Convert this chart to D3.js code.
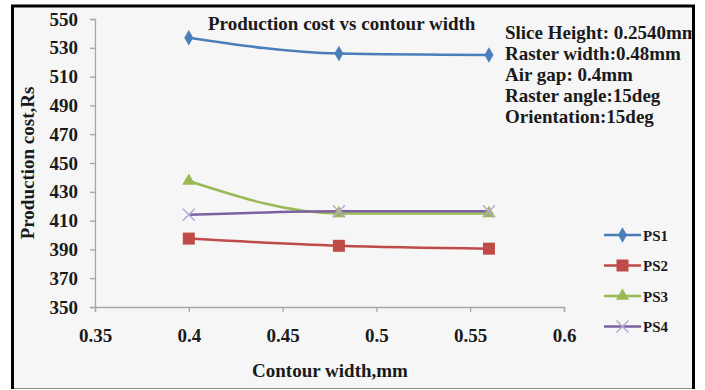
<!DOCTYPE html>
<html>
<head>
<meta charset="utf-8">
<script src="https://cdn.jsdelivr.net/npm/d3@7"></script>
<style>
  html, body { margin: 0; padding: 0; background: #ffffff; }
  svg { display: block; }
  text { font-family: "Liberation Serif", "Times New Roman", serif; fill: #1a1a1a; }
</style>
</head>
<body>
<svg id="chart" width="705" height="390"></svg>
<script>
// Contour width values (mm) and production cost per part set (Rs)
const contourWidth = [0.40, 0.48, 0.56];
const ps1 = [537, 526, 525];
const ps2 = [397.5, 392.5, 390.5];
const ps3 = [437.5, 415, 415];
const ps4 = [414, 416.5, 416.5];
const seriesNames = ["PS1", "PS2", "PS3", "PS4"];
const seriesColors = ["#4a7ebb", "#be4b48", "#98b954", "#7d60a0"];
const xTicks = [0.35, 0.4, 0.45, 0.5, 0.55, 0.6];
const yTicks = [350, 370, 390, 410, 430, 450, 470, 490, 510, 530, 550];
const noteLines = [
  "Slice Height: 0.2540mm",
  "Raster width:0.48mm",
  "Air gap: 0.4mm",
  "Raster angle:15deg",
  "Orientation:15deg"
];

const series = [ps1, ps2, ps3, ps4].map((vals, i) => ({
  name: seriesNames[i],
  color: seriesColors[i],
  points: vals.map((v, j) => ({ x: contourWidth[j], y: v }))
}));

const svg = d3.select("#chart");

// Frame
svg.append("rect").attr("x", 12.5).attr("y", 6).attr("width", 681).attr("height", 383)
  .attr("fill", "#f6f6f6").attr("stroke", "none");
svg.append("line").attr("x1", 12).attr("x2", 694).attr("y1", 388.5).attr("y2", 388.5)
  .attr("stroke", "#8c8c8c").attr("stroke-width", 1.2);

const x = d3.scaleLinear().domain([0.35, 0.6]).range([95, 564]);
const y = d3.scaleLinear().domain([350, 550]).range([307, 19]);

// Axes
const yAxis = svg.append("g").attr("transform", "translate(95,0)")
  .call(d3.axisLeft(y).tickValues(yTicks).tickSize(5).tickPadding(12).tickFormat(d3.format("d")));
const xAxis = svg.append("g").attr("transform", "translate(0,307)")
  .call(d3.axisBottom(x).tickValues(xTicks).tickSize(5).tickPadding(16.5).tickFormat(d => String(d)));
[xAxis, yAxis].forEach(g => {
  g.selectAll("path, line").attr("stroke", "#a6a6a6").attr("stroke-width", 1.3);
  g.selectAll("text").attr("font-family", "Liberation Serif, serif")
    .attr("font-size", 19).attr("font-weight", "bold").attr("fill", "#262626");
});

// Series lines (smoothed)
const line = d3.line().x(d => x(d.x)).y(d => y(d.y)).curve(d3.curveMonotoneX);
const gSeries = svg.append("g");
series.forEach(s => {
  gSeries.append("path").attr("d", line(s.points))
    .attr("fill", "none").attr("stroke", s.color).attr("stroke-width", 2.5);
});

// Marker drawing shared by plot and legend
function marker(g, name, color, cx, cy) {
  if (name === "PS1") {
    g.append("path").attr("d", d3.symbol(d3.symbolDiamond, 70)())
      .attr("transform", `translate(${cx},${cy})`).attr("fill", color);
  } else if (name === "PS2") {
    g.append("rect").attr("x", cx - 6).attr("y", cy - 6).attr("width", 12).attr("height", 12)
      .attr("fill", color);
  } else if (name === "PS3") {
    g.append("path").attr("d", d3.symbol(d3.symbolTriangle, 75)())
      .attr("transform", `translate(${cx},${cy})`).attr("fill", color);
  } else {
    g.append("path").attr("d", `M${cx - 6},${cy - 6}L${cx + 6},${cy + 6}M${cx - 6},${cy + 6}L${cx + 6},${cy - 6}`)
      .attr("stroke", "#b8a6d4").attr("stroke-width", 1.5).attr("fill", "none");
  }
}
series.forEach(s => s.points.forEach(p => marker(gSeries, s.name, s.color, x(p.x), y(p.y))));

// Title and build settings
svg.append("text").attr("x", 208).attr("y", 29.5)
  .attr("font-size", 19).attr("font-weight", "bold").attr("fill", "#222")
  .text("Production cost vs contour width");
svg.append("g").selectAll("text").data(noteLines).join("text")
  .attr("x", 505).attr("y", (d, i) => 39 + i * 21)
  .attr("font-size", 19).attr("font-weight", "bold").attr("fill", "#222")
  .text(d => d);

// Axis titles
svg.append("text").attr("x", 330).attr("y", 377).attr("text-anchor", "middle")
  .attr("font-size", 19).attr("font-weight", "bold").text("Contour width,mm");
svg.append("text").attr("transform", "translate(34,163) rotate(-90)").attr("text-anchor", "middle")
  .attr("font-size", 19).attr("font-weight", "bold").text("Production cost,Rs");

// Legend
const legend = svg.append("g");
series.forEach((s, i) => {
  const ly = 235 + i * 30.5;
  legend.append("line").attr("x1", 604).attr("x2", 641).attr("y1", ly).attr("y2", ly)
    .attr("stroke", s.color).attr("stroke-width", 2.5);
  marker(legend, s.name, s.color, 622.5, ly);
  legend.append("text").attr("x", 643).attr("y", ly + 5.5)
    .attr("font-family", "Liberation Sans, Arial, sans-serif")
    .attr("font-size", 15).attr("font-weight", "bold").attr("fill", "#262626").text(s.name);
});

// Outer border drawn last so it clips overflowing text at the right edge
svg.append("rect").attr("x", 694).attr("y", 0).attr("width", 11).attr("height", 390).attr("fill", "#fff");
svg.append("path").attr("d", "M12.5,389 V6 H693.5 V389")
  .attr("fill", "none").attr("stroke", "#000").attr("stroke-width", 3);
</script>
</body>
</html>
